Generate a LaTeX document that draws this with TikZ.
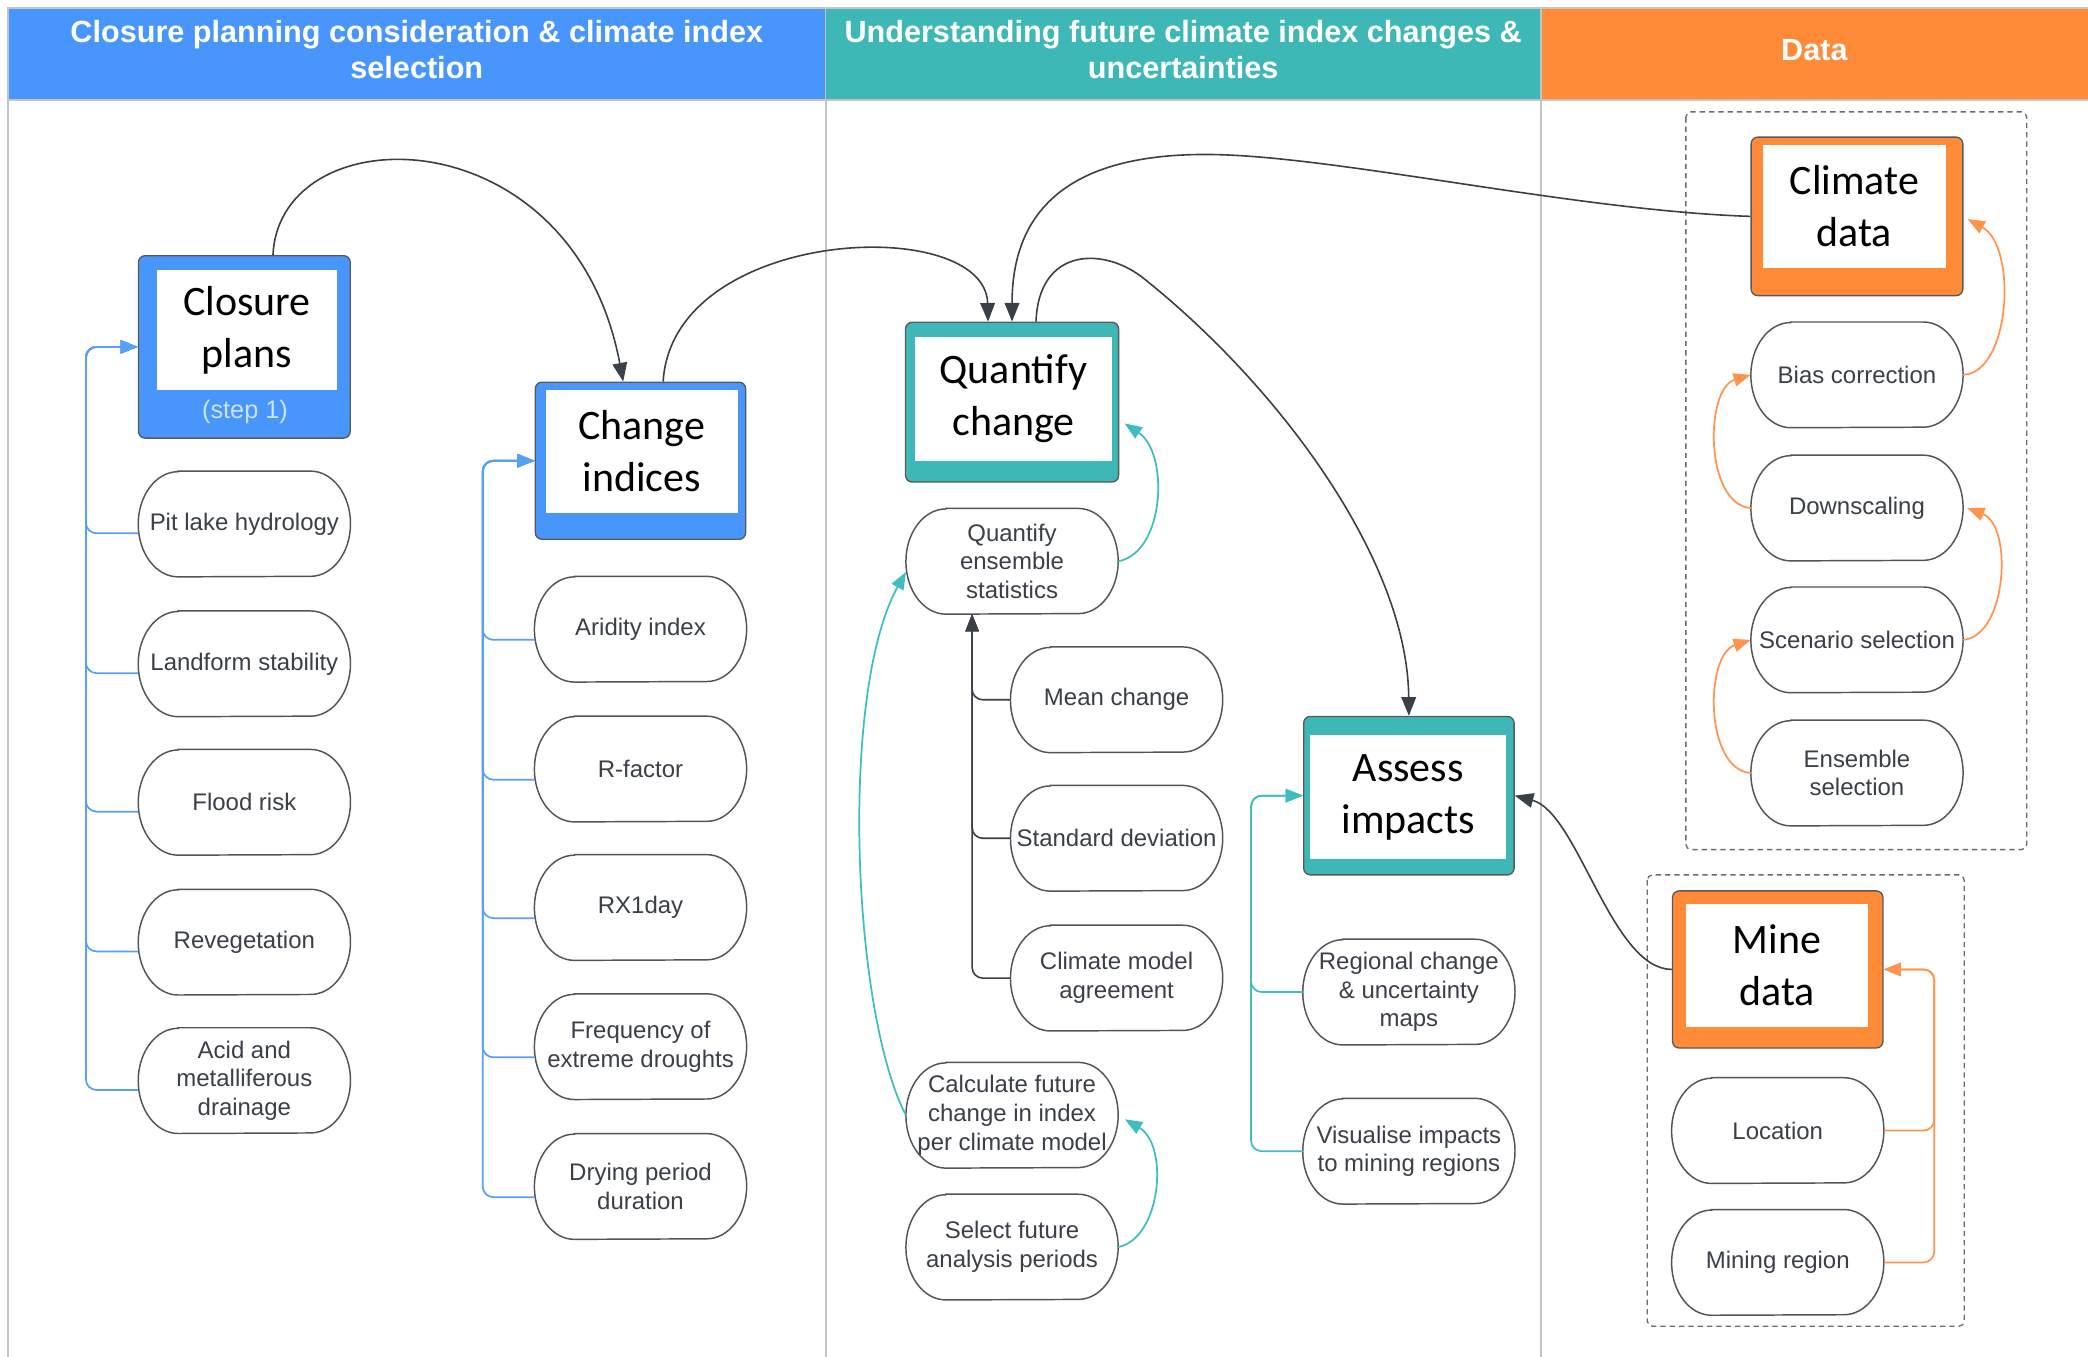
\documentclass[tikz,border=0pt]{standalone}
\usepackage{fontspec}
\setmainfont{Liberation Sans}
\newfontfamily\boxfont{Carlito}
\usetikzlibrary{arrows.meta,calc}
\definecolor{cblue}{RGB}{72,150,252}
\definecolor{cteal}{RGB}{62,184,182}
\definecolor{corange}{RGB}{255,138,56}
\definecolor{lblue}{RGB}{88,160,246}
\definecolor{lteal}{RGB}{62,190,190}
\definecolor{lorange}{RGB}{255,148,78}
\definecolor{ink}{RGB}{58,63,72}
\definecolor{sepgray}{RGB}{196,196,196}
\definecolor{ovalgray}{RGB}{82,84,88}
\definecolor{steptext}{RGB}{205,226,255}

% stadium outline with elliptical ends around a named node
\newcommand\ovaloutline[1]{%
  \draw[ovalline] ($(#1.north west)+(30pt,0pt)$) -- ($(#1.north east)+(-30pt,0pt)$)
    arc[start angle=90,end angle=-90,x radius=30pt,y radius=39.5pt]
    -- ($(#1.south west)+(30pt,0pt)$)
    arc[start angle=270,end angle=90,x radius=30pt,y radius=39.5pt] -- cycle;}

\begin{document}
\begin{tikzpicture}[x=1pt,y=-1pt,
  hdrtext/.style={text=white, font=\fontsize{23}{27}\selectfont\bfseries, align=center, inner sep=0pt},
  bigbox/.style={draw=gray!70!black, line width=1pt, rounded corners=5pt, inner sep=0pt},
  inbox/.style={fill=white, inner sep=0pt, align=center, font=\boxfont\fontsize{31.5}{39}\selectfont},
  ovalnode/.style={minimum width=159pt, minimum height=79pt, inner sep=0pt, align=center,
    text=ink, font=\fontsize{18}{21.5}\selectfont},
  ovalline/.style={draw=ovalgray, line width=1.1pt},
  sepline/.style={draw=sepgray, line width=1.5pt},
  dashbox/.style={draw=gray!85!black, line width=1pt, dash pattern=on 4pt off 3pt, rounded corners=4pt},
  darkcon/.style={draw=ink, line width=1.2pt, -{Triangle[length=14pt,width=11pt]}},
  bluecon/.style={draw=lblue, line width=1.3pt, rounded corners=8pt, -{Triangle[length=13pt,width=10pt]}},
  tealcon/.style={draw=lteal, line width=1.3pt, rounded corners=8pt, -{Triangle[length=13pt,width=10pt]}},
  orangecon/.style={draw=lorange, line width=1.3pt, rounded corners=8pt, -{Triangle[length=13pt,width=10pt]}},
  blackcon/.style={draw=ink, line width=1.2pt, rounded corners=8pt, -{Triangle[length=13pt,width=10pt]}},
]
\useasboundingbox (0,0) rectangle (1568,1019);
\fill[white] (0,0) rectangle (1568,1019);

% ---- header band ----
\filldraw[fill=cblue, draw=sepgray, line width=1.2pt] (6,6) rectangle (620,75);
\filldraw[fill=cteal, draw=sepgray, line width=1.2pt] (620,6) rectangle (1157,75);
\filldraw[fill=corange, draw=sepgray, line width=1.2pt] (1157,6) rectangle (1572,75);
\node[hdrtext] (h1) at (313,37.5) {Closure planning consideration \& climate index\\selection};
\node[hdrtext] (h2) at (888.5,37.5) {Understanding future climate index changes \&\\uncertainties};
\node[hdrtext] (h3) at (1362.5,38) {Data};

% ---- column separators ----
\draw[sepline] (6,75) -- (6,1019);
\draw[sepline] (620,75) -- (620,1019);
\draw[sepline] (1157,75) -- (1157,1019);

% ---- dashed groups in the data column ----
\draw[dashbox] (1266,84) rectangle (1522,638);
\draw[dashbox] (1237,657) rectangle (1475,996);

% ---- main boxes ----
\node[bigbox, fill=cblue, minimum width=159pt, minimum height=137pt] (cp) at (183.5,260.5) {};
\node[inbox, minimum width=135pt, minimum height=90pt] (cpt) at (185.5,248) {Closure\\plans};
\node[text=steptext, font=\fontsize{19}{22}\selectfont, inner sep=0pt] (cps) at (184,309) {(step 1)};

\node[bigbox, fill=cblue, minimum width=158pt, minimum height=118pt] (ci) at (481,346) {};
\node[inbox, minimum width=144pt, minimum height=92pt] (cit) at (482,339) {Change\\indices};

\node[bigbox, fill=cteal, minimum width=160pt, minimum height=120pt] (qc) at (760,302) {};
\node[inbox, minimum width=148pt, minimum height=93pt] (qct) at (761,299.5) {Quantify\\change};

\node[bigbox, fill=cteal, minimum width=158pt, minimum height=119pt] (ai) at (1058,597.5) {};
\node[inbox, minimum width=147pt, minimum height=93pt] (ait) at (1057.5,598.5) {Assess\\impacts};

\node[bigbox, fill=corange, minimum width=159pt, minimum height=119pt] (cd) at (1394.5,162.5) {};
\node[inbox, minimum width=137pt, minimum height=92pt] (cdt) at (1392.5,155) {Climate\\data};

\node[bigbox, fill=corange, minimum width=158pt, minimum height=118pt] (md) at (1335,728) {};
\node[inbox, minimum width=137pt, minimum height=92pt] (mdt) at (1334.5,725) {Mine\\data};

% ---- rounded items ----
\node[ovalnode] (pit)   at (183.5,393.5) {Pit lake hydrology};
\node[ovalnode] (land)  at (183.5,498.5) {Landform stability};
\node[ovalnode] (flood) at (183.5,602.5) {Flood risk};
\node[ovalnode] (reveg) at (183.5,707.5) {Revegetation};
\node[ovalnode] (amd)   at (183.5,811.5) {Acid and\\metalliferous\\drainage};

\node[ovalnode] (arid) at (481,472.5) {Aridity index};
\node[ovalnode] (rfac) at (481,577.5) {R-factor};
\node[ovalnode] (rx)   at (481,681.5) {RX1day};
\node[ovalnode] (freq) at (481,786)   {Frequency of\\extreme droughts};
\node[ovalnode] (dry)  at (481,891)   {Drying period\\duration};

\node[ovalnode] (qes)  at (760,421.5)   {Quantify\\ensemble\\statistics};
\node[ovalnode] (mean) at (838.5,525.5) {Mean change};
\node[ovalnode] (std)  at (838.5,629.5) {Standard deviation};
\node[ovalnode] (cma)  at (838.5,734.5) {Climate model\\agreement};
\node[ovalnode] (calc) at (760,837.5)   {Calculate future\\change in index\\per climate model};
\node[ovalnode] (sel)  at (760,936.5)   {Select future\\analysis periods};

\node[ovalnode] (reg) at (1058,745)   {Regional change\\\& uncertainty\\maps};
\node[ovalnode] (vis) at (1058,864.5) {Visualise impacts\\to mining regions};

\node[ovalnode] (bias) at (1394.5,281.5) {Bias correction};
\node[ovalnode] (down) at (1394.5,381.5) {Downscaling};
\node[ovalnode] (scen) at (1394.5,480.5) {Scenario selection};
\node[ovalnode] (ens)  at (1394.5,580.5) {Ensemble\\selection};

\node[ovalnode] (loc)     at (1335,849) {Location};
\node[ovalnode] (minereg) at (1335,948) {Mining region};

\foreach \n in {pit,land,flood,reveg,amd,arid,rfac,rx,freq,dry,qes,mean,std,cma,calc,sel,reg,vis,bias,down,scen,ens,loc,minereg}
  {\ovaloutline{\n}}

% ---- closure considerations feed closure plans ----
\foreach \n in {pit,land,flood,reveg,amd}
  {\draw[bluecon] ($(\n.west)+(0,7)$) -| ($(cp.west)+(-39,0)$) -- (cp.west);}

% ---- indices feed change indices ----
\foreach \n in {arid,rfac,rx,freq,dry}
  {\draw[bluecon] ($(\n.west)+(0,8)$) -| ($(ci.west)+(-39,0)$) -- (ci.west);}

% ---- statistics feed ensemble statistics ----
\foreach \n in {mean,std,cma}
  {\draw[blackcon] (\n.west) -| ($(qes.south)+(-30,0)$);}

% ---- outputs feed assess impacts ----
\foreach \n in {reg,vis}
  {\draw[tealcon] (\n.west) -| ($(ai.west)+(-39,0)$) -- (ai.west);}

% ---- mine data inputs ----
\foreach \n in {loc,minereg}
  {\draw[orangecon] (\n.east) -| ($(md.east)+(38,0)$) -- (md.east);}

% ---- climate data chain ----
\draw[orangecon] (bias.east) .. controls (1510,280) and (1515,185) .. ($(cd.east)+(3,2)$);
\draw[orangecon] (down.west) .. controls (1280,379) and (1280,292) .. (bias.west);
\draw[orangecon] (scen.east) .. controls (1507,478) and (1512,395) .. ($(down.east)+(3,0)$);
\draw[orangecon] (ens.west) .. controls (1280,578) and (1280,492) .. (scen.west);

% ---- quantification chain ----
\draw[tealcon] (qes.east) .. controls (875,415) and (878,340) .. ($(qc.east)+(4,16)$);
\draw[tealcon] (calc.west) .. controls (640,760) and (630,520) .. ($(qes.west)+(0,8)$);
\draw[tealcon] (sel.east) .. controls (872,930) and (878,860) .. ($(calc.east)+(5,3)$);

% ---- main flow ----
\draw[darkcon] ($(cp.north)+(21.5,0)$) .. controls (210,85) and (430,85) .. ($(ci.north)+(-13,0)$);
\draw[darkcon] ($(ci.north)+(17,0)$) .. controls (505,170) and (740,160) .. ($(qc.north)+(-18,0)$);
\draw[darkcon] (cd.west) .. controls (1180,158) and (1000,116) .. (905,116)
  .. controls (800,116) and (760,160) .. (qc.north);
\draw[darkcon] ($(qc.north)+(18,0)$) .. controls (780,185) and (830,185) .. (860,210)
  .. controls (960,290) and (1057,420) .. (ai.north);
\draw[darkcon] (md.west) .. controls (1210,728) and (1185,610) .. (ai.east);

\end{tikzpicture}
\end{document}
